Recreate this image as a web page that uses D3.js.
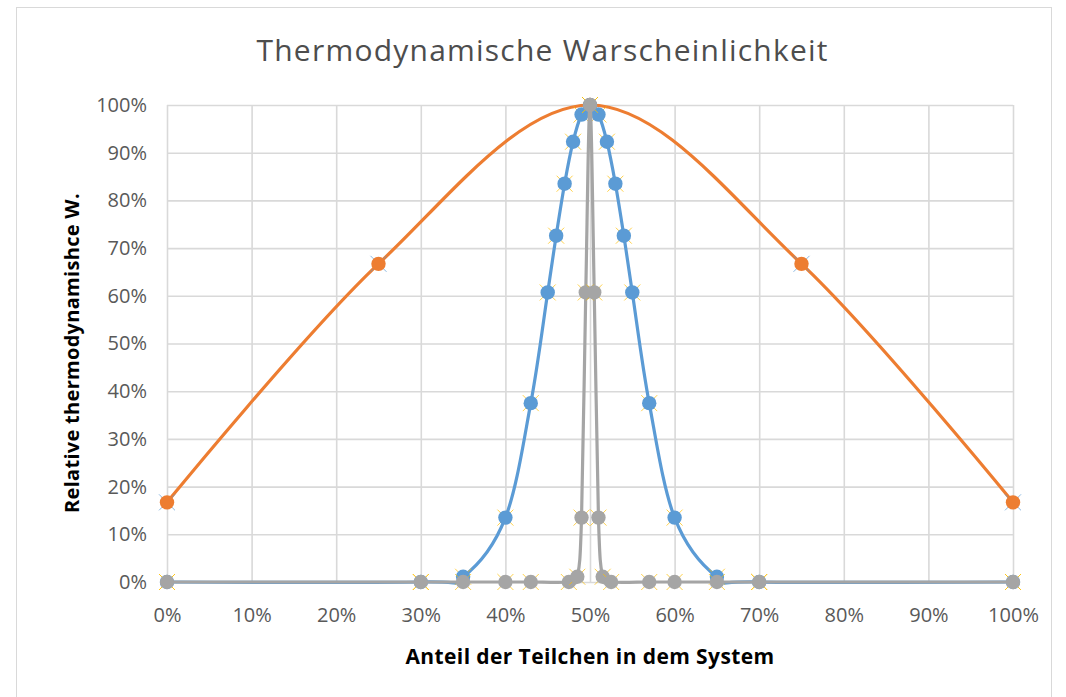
<!DOCTYPE html>
<html><head><meta charset="utf-8">
<script src="https://cdn.jsdelivr.net/npm/d3@7"></script>
<style>body{margin:0;background:#fff;}svg{display:block;}</style>
</head><body>
<svg id="c" width="1066" height="697"></svg>
<script>
// ---- data ----
const title = "Thermodynamische Warscheinlichkeit";
const xAxisTitle = "Anteil der Teilchen in dem System";
const yAxisTitle = "Relative thermodynamishce W.";
const xTickValues = [0,0.1,0.2,0.3,0.4,0.5,0.6,0.7,0.8,0.9,1.0];
const yTickValues = [0,0.1,0.2,0.3,0.4,0.5,0.6,0.7,0.8,0.9,1.0];
// N = 4
const orangeX = [0, 0.25, 0.5, 0.75, 1.0];
const orangeY = [0.167, 0.667, 1.0, 0.667, 0.167];
// N = 100
const blueX = [0, 0.30, 0.35, 0.40, 0.43, 0.45, 0.46, 0.47, 0.48, 0.49, 0.50, 0.51, 0.52, 0.53, 0.54, 0.55, 0.57, 0.60, 0.65, 0.70, 1.0];
const blueY = [0, 0, 0.011, 0.135, 0.375, 0.607, 0.726, 0.835, 0.923, 0.980, 1.0, 0.980, 0.923, 0.835, 0.726, 0.607, 0.375, 0.135, 0.011, 0, 0];
// N = 10000
const grayX = [0, 0.30, 0.35, 0.40, 0.43, 0.475, 0.485, 0.49, 0.495, 0.50, 0.505, 0.51, 0.515, 0.525, 0.57, 0.60, 0.65, 0.70, 1.0];
const grayY = [0, 0, 0, 0, 0, 0, 0.011, 0.135, 0.607, 1.0, 0.607, 0.135, 0.011, 0, 0, 0, 0, 0, 0];

const svg = d3.select("#c");
const x = d3.scaleLinear().domain([0,1]).range([167,1013]);
const y = d3.scaleLinear().domain([0,1]).range([582,105]);
const fmt = d3.format(".0%");

// chart border
svg.append("rect").attr("x",16.5).attr("y",7.5).attr("width",1035).attr("height",720)
  .attr("fill","#fff").attr("stroke","#d9d9d9").attr("stroke-width",1);

// grid
const gx = svg.append("g").attr("transform","translate(0,582)")
  .call(d3.axisBottom(x).tickValues(xTickValues).tickSize(-(582-105)).tickFormat(fmt).tickPadding(26));
gx.select(".domain").remove();
gx.selectAll(".tick line").attr("stroke","#d9d9d9").attr("stroke-width",1.6);
gx.selectAll(".tick text").attr("fill","#595959").style("font-family","'Open Sans'").style("font-size","20px");

const gy = svg.append("g").attr("transform","translate(167,0)")
  .call(d3.axisLeft(y).tickValues(yTickValues).tickSize(-(1013-167)).tickFormat(fmt).tickPadding(20));
gy.select(".domain").remove();
gy.selectAll(".tick line").attr("stroke","#d9d9d9").attr("stroke-width",1.6);
gy.selectAll(".tick text").attr("fill","#595959").style("font-family","'Open Sans'").style("font-size","20px");

// series
function series(xs, ys, color, decoColor){
  const pts = xs.map((v,i)=>[x(v), y(ys[i])]);
  const line = d3.line().curve(d3.curveCardinal.tension(0));
  svg.append("path").attr("d", line(pts)).attr("fill","none").attr("stroke",color).attr("stroke-width",3.2).attr("stroke-linejoin","round");
  const g = svg.append("g");
  pts.forEach(p=>{
    const s = 8;
    g.append("path").attr("d",`M${p[0]-s},${p[1]-s}L${p[0]+s},${p[1]+s}M${p[0]-s},${p[1]+s}L${p[0]+s},${p[1]-s}`)
      .attr("stroke",decoColor).attr("stroke-width",1).attr("opacity",0.7);
    g.append("circle").attr("cx",p[0]).attr("cy",p[1]).attr("r",7.2).attr("fill",color);
  });
}
series(orangeX, orangeY, "#ed7d31", "#5b9bd5");
series(blueX, blueY, "#5b9bd5", "#ffc000");
series(grayX, grayY, "#a5a5a5", "#ffc000");

// titles
svg.append("text").attr("x",542).attr("y",61).attr("text-anchor","middle")
  .attr("fill","#4d4d4d").style("font-family","'Open Sans'").style("font-size","30px").style("font-weight","400")
  .attr("textLength",571).attr("lengthAdjust","spacing")
  .text(title);
svg.append("text").attr("x",590).attr("y",664).attr("text-anchor","middle")
  .attr("fill","#000").style("font-family","'Open Sans'").style("font-size","21px").style("font-weight","700")
  .style("letter-spacing","0.4px")
  .text(xAxisTitle);
svg.append("text").attr("transform","translate(79,353) rotate(-90)").attr("text-anchor","middle")
  .attr("fill","#000").style("font-family","'Open Sans'").style("font-size","20px").style("font-weight","700")
  .style("letter-spacing","0.3px")
  .text(yAxisTitle);
</script>
</body></html>
